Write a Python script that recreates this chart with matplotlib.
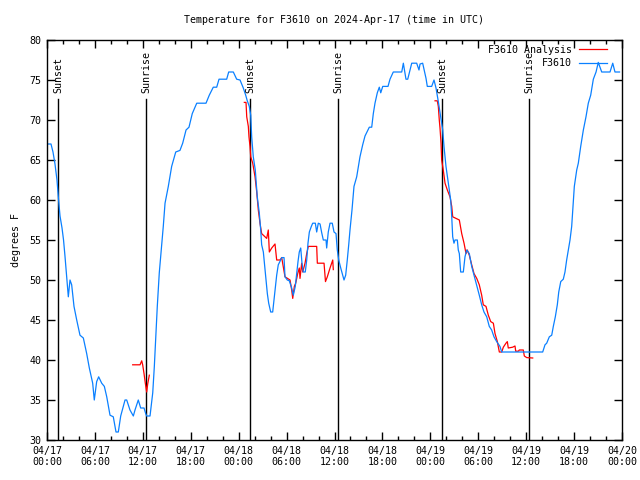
import datetime as dt
import matplotlib
matplotlib.use("Agg")
import matplotlib.pyplot as plt
import matplotlib.dates as mdates

# hours after 2024-04-17 00:00 UTC, temperature in F
obs_hours = [
    0.0, 0.5, 0.75, 1.0, 1.25, 1.45, 1.63, 1.88, 2.07, 2.25, 2.47, 2.67, 2.88, 3.09, 3.38,
    3.72, 4.13, 4.55, 4.97, 5.30, 5.72, 5.92, 6.22, 6.47, 6.85, 7.18, 7.48, 7.89, 8.30,
    8.64, 8.93, 9.23, 9.55, 9.77, 9.98, 10.39, 10.81, 11.02, 11.43, 11.73, 12.15, 12.36,
    12.48, 12.90, 13.24, 13.44, 13.65, 13.81, 14.06, 14.31, 14.56, 14.78, 15.19, 15.61,
    16.12, 16.65, 16.99, 17.41, 17.78, 18.19, 18.75, 19.91, 20.32, 20.82, 21.25, 21.54,
    22.50, 22.75, 23.33, 23.75, 24.17, 24.58, 24.88, 25.08, 25.33, 25.51, 25.63, 25.83,
    26.08, 26.33, 26.58, 26.76, 26.88, 27.09, 27.26, 27.42, 27.59, 27.76, 28.01, 28.26,
    28.42, 28.59, 28.76, 28.96, 29.26, 29.39, 29.68, 29.80, 30.09, 30.34, 30.64, 30.84,
    31.09, 31.27, 31.43, 31.59, 31.77, 31.93, 32.09, 32.34, 32.52, 32.68, 32.85, 33.10,
    33.27, 33.60, 33.77, 33.97, 34.19, 34.40, 34.60, 34.94, 35.02, 35.22, 35.44, 35.72,
    35.94, 36.19, 36.35, 36.53, 36.78, 37.03, 37.19, 37.40, 37.60, 37.78, 37.94, 38.19,
    38.44, 38.78, 39.19, 39.53, 39.82, 40.36, 40.66, 40.86, 41.07, 41.36, 41.61, 41.79,
    42.04, 42.70, 42.95, 43.36, 44.42, 44.62, 44.83, 44.95, 45.17, 45.67, 46.29, 46.58,
    46.71, 47.04, 47.46, 47.62, 48.17, 48.46, 48.71, 49.00, 49.30, 49.55, 49.71, 49.96,
    50.25, 50.55, 50.68, 50.80, 50.96, 51.09, 51.38, 51.50, 51.63, 51.80, 52.13, 52.34,
    52.55, 52.88, 53.18, 53.47, 53.72, 54.13, 54.43, 54.72, 55.06, 55.38, 55.68, 55.97,
    56.31, 56.72, 56.94, 62.07, 62.36, 62.57, 62.90, 63.20, 63.40, 63.65, 63.90, 64.08,
    64.33, 64.65, 64.86, 65.07, 65.28, 65.49, 65.70, 66.03, 66.33, 66.53, 66.83, 67.16,
    67.49, 67.78, 68.08, 68.41, 68.75, 69.03, 69.46, 70.50, 70.84, 71.12, 71.69,
]
obs_temp = [
    67.0, 67.0, 66.0, 64.5, 62.5, 60.0, 58.0, 56.5, 55.0, 53.0, 50.4, 47.9, 50.0, 49.4, 46.7,
    45.0, 43.1, 42.75, 40.8, 39.0, 37.1, 35.0, 37.3, 37.9, 37.1, 36.7, 35.4, 33.1, 32.9,
    31.0, 31.0, 33.0, 34.2, 35.0, 35.0, 33.75, 33.0, 33.75, 35.0, 34.0, 34.0, 33.3,
    33.0, 33.0, 35.9, 39.2, 43.4, 46.7, 50.9, 53.75, 56.7, 59.6, 61.7, 64.2,
    66.0, 66.2, 67.1, 68.75, 69.1, 70.8, 72.1, 72.1, 73.1, 74.1, 74.1, 75.1,
    75.1, 76.0, 76.0, 75.1, 75.0, 74.0, 73.1, 72.4, 71.7, 70.6, 67.9, 65.4,
    63.75, 60.4, 58.4, 56.25, 54.4, 53.5, 51.7, 50.0, 48.3, 47.1, 46.0, 46.0,
    47.5, 49.2, 50.6, 51.9, 52.5, 52.8, 52.8, 50.4, 50.0, 49.9, 49.0, 48.1,
    49.2, 50.8, 52.3, 53.5, 54.0, 52.1, 51.0, 51.0, 52.5, 54.6, 56.0, 56.7,
    57.1, 57.1, 56.0, 57.1, 57.0, 55.9, 55.0, 55.0, 54.0, 56.0, 57.1, 57.1,
    56.0, 55.8, 53.75, 52.5, 51.5, 50.6, 50.0, 50.6, 52.5, 54.4, 56.25, 58.75,
    61.7, 62.9, 65.4, 66.9, 68.0, 69.1, 69.1, 70.8, 72.1, 73.4, 74.1, 73.4,
    74.2, 74.2, 75.1, 76.0, 76.0, 77.1, 75.8, 75.1, 75.1, 77.1, 77.1, 76.25,
    77.0, 77.1, 75.2, 74.2, 74.2, 75.0, 74.0, 72.3, 70.4, 68.75, 66.7, 64.2,
    62.1, 60.0, 57.9, 55.4, 54.6, 55.0, 55.0, 53.75, 53.3, 51.0, 51.0, 52.9,
    53.75, 53.3, 51.7, 50.6, 49.6, 48.1, 46.9, 46.0, 45.4, 44.2, 43.75, 42.9,
    42.3, 41.7, 41.0, 41.0, 41.9, 42.1, 42.9, 43.1, 44.2, 45.4, 46.9, 48.5,
    49.8, 50.1, 51.0, 52.5, 53.75, 55.0, 56.7, 61.7, 63.75, 64.6, 66.7, 68.75,
    70.4, 72.1, 73.1, 75.1, 76.0, 77.2, 76.0, 76.0, 77.1, 76.0, 76.0,
]

# analysis runs (three separate pieces)
ana1_hours = [10.73, 11.65, 11.86, 11.98, 12.15, 12.31, 12.48, 12.61, 12.81]
ana1_temp = [39.4, 39.4, 39.9, 39.4, 38.3, 37.1, 36.0, 37.0, 38.1]

ana2_hours = [
    24.71, 24.92, 25.01, 25.21, 25.29, 25.42, 25.51, 25.76, 26.05, 26.26, 26.46, 26.67,
    26.88, 27.51, 27.71, 27.84, 28.14, 28.55, 28.76, 29.18, 29.39, 29.80, 30.43, 30.64,
    30.77, 30.97, 31.14, 31.27, 31.39, 31.59, 31.68, 31.89, 32.02, 32.31, 32.52, 32.72,
    33.77, 33.85, 34.69, 34.87, 35.10, 35.44, 35.78, 35.85,
]
ana2_temp = [
    72.2, 72.2, 70.4, 69.2, 67.9, 66.7, 65.4, 64.6, 62.9, 61.0, 58.75, 57.1,
    55.8, 55.2, 56.25, 53.5, 54.0, 54.5, 52.5, 52.5, 52.8, 50.4, 50.0, 48.75,
    47.7, 49.2, 49.6, 50.2, 50.8, 51.5, 50.2, 52.1, 51.0, 52.1, 53.3, 54.2,
    54.2, 52.1, 52.1, 49.8, 50.4, 51.5, 52.5, 51.3,
]

ana3_hours = [
    48.59, 48.87, 49.00, 49.12, 49.21, 49.34, 49.42, 49.62, 49.84, 50.13, 50.46, 50.68,
    50.80, 51.63, 51.93, 52.22, 52.47, 52.63, 52.88, 53.18, 53.47, 53.81, 54.13, 54.43,
    54.63, 54.97, 55.26, 55.56, 55.89, 56.10, 56.39, 56.64, 56.94, 57.14, 57.47, 57.64,
    57.76, 58.31, 58.60, 58.69, 59.02, 59.14, 59.64, 59.77, 60.07, 60.82,
]
ana3_temp = [
    72.4, 72.4, 71.7, 70.0, 69.0, 67.1, 65.0, 63.75, 62.1, 61.25, 60.4, 59.2,
    57.9, 57.5, 55.8, 54.6, 53.3, 53.75, 53.1, 51.9, 50.8, 50.2, 49.4, 48.1,
    46.9, 46.7, 45.6, 44.8, 44.6, 43.3, 42.3, 41.0, 41.0, 41.6, 42.1, 42.3,
    41.5, 41.6, 41.75, 41.1, 41.1, 41.25, 41.25, 40.5, 40.3, 40.25,
]

sun_hours = [1.38, 12.43, 25.42, 36.44, 49.46, 60.36]
sun_names = ["Sunset", "Sunrise", "Sunset", "Sunrise", "Sunset", "Sunrise"]

base = dt.datetime(2024, 4, 17)


def to_time(hours):
    return [base + dt.timedelta(hours=h) for h in hours]


mono = "DejaVu Sans Mono"
fs = 7.2
blue = "#0a80ff"

fig = plt.figure(figsize=(6.4, 4.8), dpi=100)
ax = fig.add_axes([47 / 640, 40 / 480, 575 / 640, 400 / 480])

for h, name in zip(sun_hours, sun_names):
    t = base + dt.timedelta(hours=h)
    ax.plot([t, t], [30, 72.6], color="black", lw=1.0)
    ax.text(t, 73.4, name, rotation=90, ha="center", va="bottom",
            family=mono, fontsize=fs)

ax.plot(to_time(ana1_hours), ana1_temp, color="red", lw=0.9, label="F3610 Analysis")
ax.plot(to_time(ana2_hours), ana2_temp, color="red", lw=0.9)
ax.plot(to_time(ana3_hours), ana3_temp, color="red", lw=0.9)
ax.plot(to_time(obs_hours), obs_temp, color=blue, lw=0.9, label="F3610")

ax.set_xlim(base, base + dt.timedelta(hours=72))
ax.set_ylim(30, 80)
ax.set_yticks(range(30, 81, 5))
ax.xaxis.set_major_locator(mdates.HourLocator(byhour=[0, 6, 12, 18]))
ax.xaxis.set_minor_locator(mdates.HourLocator(byhour=range(0, 24, 2)))
ax.xaxis.set_major_formatter(mdates.DateFormatter("%m/%d\n%H:%M"))
ax.tick_params(which="both", direction="in", top=True, right=True, width=1)
ax.tick_params(which="major", length=6, labelsize=fs, pad=4)
ax.tick_params(which="minor", length=3)
for lab in ax.get_xticklabels() + ax.get_yticklabels():
    lab.set_family(mono)
for s in ax.spines.values():
    s.set_linewidth(1.0)

ax.set_ylabel("degrees F", family=mono, fontsize=fs, labelpad=6)
fig.text(334 / 640, 1 - 20 / 480, "Temperature for F3610 on 2024-Apr-17 (time in UTC)",
         ha="center", va="center", family=mono, fontsize=fs)

ax.legend(loc="upper right", bbox_to_anchor=(0.99, 1.01), frameon=False,
          markerfirst=False, handlelength=2.8, handletextpad=0.7, labelspacing=0.32,
          prop={"family": mono, "size": fs})

fig.savefig("out.png", dpi=100)
